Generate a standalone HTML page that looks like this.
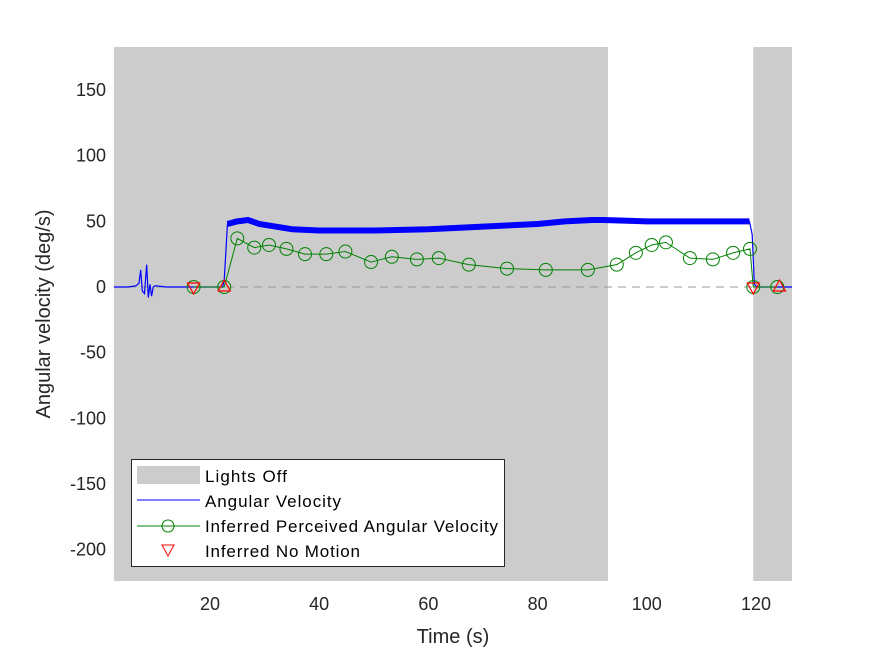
<!DOCTYPE html>
<html><head><meta charset="utf-8"><style>
html,body{margin:0;padding:0;background:#fff;}
svg{display:block;font-family:"Liberation Sans",Arial,sans-serif;}
</style></head><body>
<svg id="chart" width="875" height="656" viewBox="0 0 875 656">
<g id="shade"></g>
<line id="zero" stroke="#999" stroke-width="1" stroke-dasharray="8,6"/>
<g id="blue"></g>
<g id="green"></g>
<g id="red"></g>
<g id="xticks"></g>
<g id="yticks"></g>
<text x="453" y="643" font-size="20" text-anchor="middle" fill="#262626">Time (s)</text>
<text transform="translate(50,314) rotate(-90)" font-size="20" text-anchor="middle" fill="#262626">Angular velocity (deg/s)</text>
<g>
<rect x="131.5" y="459.5" width="373" height="107" fill="#fff" stroke="#262626" stroke-width="1"/>
<rect x="137" y="466" width="63" height="18" fill="#cccccc"/>
<text x="205" y="482" font-size="17" textLength="82" fill="#000">Lights Off</text>
<line x1="137" y1="500" x2="200" y2="500" stroke="#0000ff" stroke-width="1"/>
<text x="205" y="507" font-size="17" textLength="136" fill="#000">Angular Velocity</text>
<line x1="137" y1="526" x2="200" y2="526" stroke="#008000" stroke-width="1"/>
<circle cx="168" cy="526" r="6" fill="none" stroke="#008000"/>
<text x="205" y="532" font-size="17" textLength="293" fill="#000">Inferred Perceived Angular Velocity</text>
<polygon points="162,545 174,545 168,556" fill="none" stroke="#ff0000"/>
<text x="205" y="557" font-size="17" textLength="155" fill="#000">Inferred No Motion</text>
</g>
</svg>
<script>
const xTicks=[20,40,60,80,100,120];
const yTicks=[150,100,50,0,-50,-100,-150,-200];
const lightsOffStart=[2.4,119.5];
const lightsOffEnd=[92.9,126.6];
const blueT=[2.4,5,6.5,7,7.3,7.6,8,8.4,8.7,9,9.3,9.6,10,12,16,20,22.3,22.6,23.2,25,27,29,32,35,40,50,60,70,80,85,90,92,100,110,118.8,119.3,119.7,120.2,126.6];
const blueV=[0,0,1,3,13,-3,-5,17,-8,2,-7,0,1,0,0,0,0,5,48,50,51,48,46,44,43,43,44,46,48,50,51,51,50,50,50,40,2,0,0];
const greenT=[17.0,22.6,25.0,28.1,30.8,34.0,37.4,41.3,44.8,49.5,53.3,57.9,61.9,67.4,74.4,81.5,89.2,94.5,98.0,100.9,103.5,107.9,112.1,115.8,118.9,119.5,123.9];
const greenV=[0,0,37,30,32,29,25,25,27,19,23,21,22,17,14,13,13,17,26,32,34,22,21,26,29,0,0];
const noMotionT=[17.0,22.6,119.5,124.3];
const noMotionV=[0,0,0,0];
const noMotionDir=[-1,1,-1,1];

const NS="http://www.w3.org/2000/svg";
const L=114,R=792,T=47,B=581;
const x=t=>100.8+t*5.46;
const y=v=>287-v*1.3133;
function mk(tag,attrs,parent){const e=document.createElementNS(NS,tag);for(const k in attrs)e.setAttribute(k,attrs[k]);document.getElementById(parent).appendChild(e);return e;}

for(let i=0;i<lightsOffStart.length;i++){
 const r=mk('rect',{x:x(lightsOffStart[i]),y:T,width:x(lightsOffEnd[i])-x(lightsOffStart[i]),height:B-T,fill:'#cccccc'},'shade');
 
 
}
const z=document.getElementById('zero');
z.setAttribute('x1',L);z.setAttribute('x2',R);z.setAttribute('y1',y(0));z.setAttribute('y2',y(0));

const thin=blueT.map((t,i)=>x(t)+','+y(blueV[i])).join(' ');
const bl=mk('polyline',{points:thin,fill:'none',stroke:'#0000ff','stroke-width':1.2},'blue');


const plateau=blueT.map((t,i)=>[t,blueV[i]]).filter(p=>p[0]>=23.2&&p[0]<=118.8);
const bw=mk('polyline',{points:plateau.map(p=>x(p[0])+','+y(p[1])).join(' '),fill:'none',stroke:'#0000ff','stroke-width':6,'stroke-linejoin':'round'},'blue');



const gl=mk('polyline',{points:greenT.map((t,i)=>x(t)+','+y(greenV[i])).join(' '),fill:'none',stroke:'#008000','stroke-width':1},'green');


greenT.forEach((t,i)=>{
 const c=mk('circle',{cx:x(t),cy:y(greenV[i]),r:6.5,fill:'none',stroke:'#008000'},'green');
 
 
});
noMotionT.forEach((t,i)=>{
 const cx=x(t),cy=y(noMotionV[i]),d=noMotionDir[i];
 const pts=d<0?`${cx-6},${cy-4} ${cx+6},${cy-4} ${cx},${cy+7}`:`${cx-6},${cy+4} ${cx+6},${cy+4} ${cx},${cy-7}`;
 const p=mk('polygon',{points:pts,fill:'none',stroke:'#ff0000','stroke-width':1.2},'red');
 
 
});
xTicks.forEach(t=>{
 const e=mk('text',{x:x(t),y:610,'font-size':18,'text-anchor':'middle',fill:'#262626'},'xticks');
 e.textContent=t;
 
 
});
yTicks.forEach(v=>{
 const e=mk('text',{x:106,y:y(v)+6,'font-size':18,'text-anchor':'end',fill:'#262626'},'yticks');
 e.textContent=v;
 
 
});
</script>
</body></html>
